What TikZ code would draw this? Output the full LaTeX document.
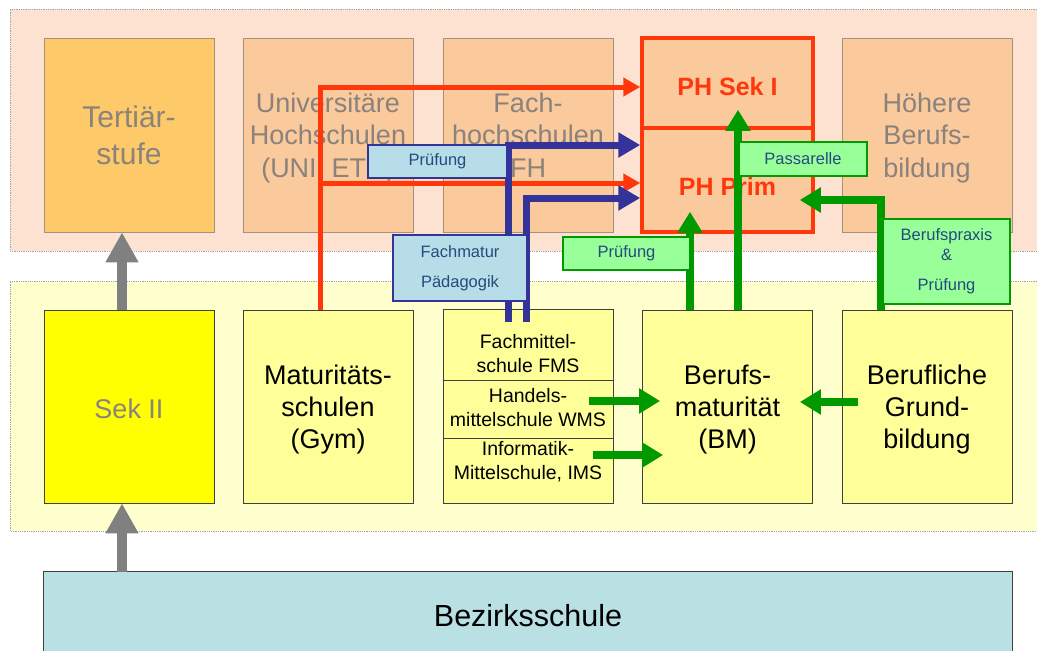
\documentclass[tikz,border=0pt]{standalone}
\usepackage{fontspec}
\setmainfont{Liberation Sans}
\usetikzlibrary{arrows.meta,calc}
\definecolor{bandT}{RGB}{253,226,210}
\definecolor{bandS}{RGB}{255,255,206}
\definecolor{bandedge}{RGB}{165,165,165}
\definecolor{tertfill}{RGB}{254,201,104}
\definecolor{unifill}{RGB}{250,201,156}
\definecolor{boxedge}{RGB}{165,145,125}
\definecolor{txtgrey}{RGB}{138,130,124}
\definecolor{secfill}{RGB}{255,255,153}
\definecolor{sekfill}{RGB}{255,255,0}
\definecolor{bezfill}{RGB}{185,224,227}
\definecolor{phred}{RGB}{255,55,10}
\definecolor{darkblue}{RGB}{51,51,153}
\definecolor{lblue}{RGB}{183,222,232}
\definecolor{dgreen}{RGB}{0,153,0}
\definecolor{lgreen}{RGB}{153,255,153}
\definecolor{labeltxt}{RGB}{35,75,125}
\definecolor{arrowgrey}{RGB}{128,128,128}
\begin{document}
\begin{tikzpicture}[x=1pt,y=-1pt,
  bigbox/.style={minimum width=170pt,inner sep=0pt,align=center,text depth=0pt},
  tbox/.style={bigbox,minimum height=194pt,fill=unifill,draw=boxedge,line width=0.8pt,text=txtgrey,font=\fontsize{27}{32.5}\selectfont},
  bbox/.style={bigbox,minimum height=193pt,fill=secfill,draw=black!75,line width=0.8pt,font=\fontsize{27}{32}\selectfont},
  phbox/.style={minimum width=171pt,inner sep=0pt,fill=unifill,draw=phred,line width=3.5pt,text=phred,font=\fontsize{25}{30}\selectfont\bfseries},
  cell/.style={minimum width=170pt,inner sep=0pt,fill=secfill,draw=black!75,line width=0.8pt},
  celltxt/.style={inner sep=0pt,align=center,font=\fontsize{19.5}{24}\selectfont},
  bluelabel/.style={inner sep=0pt,align=center,fill=lblue,draw=darkblue,line width=1.5pt,text=labeltxt,font=\fontsize{16.5}{20}\selectfont},
  greenlabel/.style={inner sep=0pt,align=center,fill=lgreen,draw=dgreen,line width=1.5pt,text=labeltxt,font=\fontsize{16.5}{20}\selectfont},
  redarrow/.style={draw=phred,line width=5pt,-{Triangle[width=18pt,length=17pt]}},
  bluearrow/.style={draw=darkblue,line width=7pt,-{Triangle[width=24pt,length=22pt]}},
  greenarrow/.style={draw=dgreen,line width=7.5pt,-{Triangle[width=24pt,length=21pt]}},
  greyarrow/.style={draw=arrowgrey,line width=10pt,-{Triangle[width=31pt,length=30pt]}}
]
\useasboundingbox (0,0) rectangle (1037,651);
% bands
\fill[bandT] (10,9) rectangle (1037,251);
\draw[bandedge,densely dotted,line width=0.8pt] (1037,9) -- (10,9) -- (10,251) -- (1037,251);
\fill[bandS] (10,281) rectangle (1037,531);
\draw[bandedge,densely dotted,line width=0.8pt] (1037,281) -- (10,281) -- (10,531) -- (1037,531);

% tertiary row
\node[tbox,fill=tertfill,font=\fontsize{30}{37}\selectfont] (tert) at (129,135) {Tertiär-\\stufe};
\node[tbox] (uni) at (328,135) {Universitäre\\Hochschulen\\(UNI, ETH)};
\node[tbox] (fh) at (528,135) {Fach-\\hochschulen\\FH};
\node[tbox] (hoeh) at (927,135) {Höhere\\Berufs-\\bildung};
\node[phbox,minimum height=90pt,text height=26pt] (sek1) at (727.5,83) {PH Sek I};
\node[phbox,minimum height=104pt,text height=30pt] (prim) at (727.5,180) {PH Prim};

% secondary row
\node[bbox,fill=sekfill,text=txtgrey,text height=23pt] (sek2) at (129,406.5) {Sek II};
\node[bbox] (mat) at (328,406.5) {Maturitäts-\\schulen\\(Gym)};
\node[cell,minimum height=71pt] (fms1) at (528,344.5) {};
\node[cell,minimum height=58pt] (wms) at (528,409) {};
\node[cell,minimum height=65pt] (ims) at (528,470.5) {};
\node[celltxt] (fms1t) at (528,354) {Fachmittel-\\schule FMS};
\node[celltxt] (wmst) at (528,407.5) {Handels-\\mittelschule WMS};
\node[celltxt] (imst) at (528,461.5) {Informatik-\\Mittelschule, IMS};
\node[bbox] (bm) at (727.5,406.5) {Berufs-\\maturität\\(BM)};
\node[bbox] (bg) at (927,406.5) {Berufliche\\Grund-\\bildung};

% Bezirksschule
\node[minimum width=968pt,minimum height=79pt,inner sep=0pt,fill=bezfill,font=\fontsize{30.5}{35}\selectfont,text height=29pt,text depth=0pt] (bez) at (528,611.5) {Bezirksschule};
\draw[black!75,line width=0.8pt] (bez.south west) -- (bez.north west) -- (bez.north east) -- (bez.south east);

% grey arrows
\coordinate (g1) at ($(sek2.north)+(-7,0)$);
\draw[greyarrow] (g1) -- (g1 |- tert.south);
\coordinate (g2) at ($(sek2.south)+(-7,0)$);
\draw[greyarrow] (g2 |- bez.north) -- (g2);

% red arrows
\coordinate (rj) at ($(mat.north)+(-8,0)$);
\draw[redarrow] (rj) |- ($(sek1.west)+(0,4)$);
\coordinate (r2) at ($(prim.west)+(0,3)$);
\draw[redarrow] (rj |- r2) -- (r2);

% blue arrows
\draw[bluearrow] ($(fms1.north)+(-20,13)$) |- ($(prim.west)+(0,-35)$);
\draw[bluearrow] ($(fms1.north)+(-2,13)$) |- ($(prim.west)+(0,18)$);

% green arrows
\draw[greenarrow] ($(bm.north)+(-37.5,0)$) -- ($(prim.south)+(-37.5,-22)$);
\draw[greenarrow] ($(bm.north)+(10.5,0)$) -- ($(sek1.south)+(10.5,-20)$);
\draw[greenarrow] ($(bg.north)+(-46,0)$) |- ($(prim.east)+(-15,20)$);
\draw[greenarrow] ($(wms.east)+(-24,-8)$) -- ($(bm.west)+(18,-5.5)$);
\draw[greenarrow] ($(ims.east)+(-20,-15.5)$) -- ($(bm.west)+(21,48.5)$);
\draw[greenarrow] ($(bg.west)+(16,-4.5)$) -- ($(bm.east)+(-13,-4.5)$);

% labels
\node[bluelabel,minimum width=139pt,minimum height=33pt] (pb) at (437.5,161.5) {Prüfung};
\node[bluelabel,minimum width=134pt,minimum height=66pt] (fm) at (460,268) {Fachmatur\\[10pt]Pädagogik};
\node[greenlabel,minimum width=127pt,minimum height=33pt] (pg) at (626.5,253.5) {Prüfung};
\node[greenlabel,minimum width=128pt,minimum height=34pt] (pa) at (803,159) {Passarelle};
\node[greenlabel,minimum width=127pt,minimum height=85pt] (bp) at (946.5,261.5) {Berufspraxis\\\&\\[10pt]Prüfung};
\end{tikzpicture}
\end{document}
